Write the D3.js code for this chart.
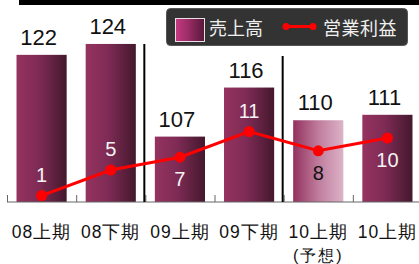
<!DOCTYPE html>
<html>
<head>
<meta charset="utf-8">
<script src="https://cdn.jsdelivr.net/npm/d3@7"></script>
<style>
  body { margin: 0; background: #fff; }
  svg { display: block; }
</style>
</head>
<body>
<div id="chart"></div>
<script>
// data
const categories = ["08上期", "08下期", "09上期", "09下期", "10上期", "10上期"];
const subLabels = ["", "", "", "", "(予想)", ""];
const sales = [122, 124, 107, 116, 110, 111];
const profit = [1, 5, 7, 11, 8, 10];
const forecast = [false, false, false, false, true, false];
const profitLabelSide = ["above", "above", "below", "above", "below", "below"];
const legendLabels = ["売上高", "営業利益"];

const W = 419, H = 264;
const baseY = 202;

const svg = d3.select("#chart").append("svg")
  .attr("width", W).attr("height", H)
  .style("font-family", "'Noto Sans CJK JP', 'Liberation Sans', sans-serif");

const defs = svg.append("defs");
function gradient(id, stops) {
  const g = defs.append("linearGradient").attr("id", id)
    .attr("x1", "0%").attr("x2", "100%").attr("y1", "0%").attr("y2", "0%");
  stops.forEach(s => g.append("stop").attr("offset", s[0]).attr("stop-color", s[1]));
}
gradient("barGrad", [["0%", "#95335f"], ["45%", "#7e2b55"], ["100%", "#44182d"]]);
gradient("foreGrad", [["0%", "#93315e"], ["50%", "#bf7c9c"], ["100%", "#dcb3c8"]]);
gradient("legGrad", [["0%", "#c63a82"], ["45%", "#9a2c66"], ["100%", "#55173a"]]);

// top black strip
svg.append("rect").attr("x", 19).attr("y", 0).attr("width", W - 19).attr("height", 5).attr("fill", "#000");

const x = d3.scaleBand().domain(d3.range(categories.length)).range([7, 422])
  .paddingInner(0.275).paddingOuter(0.1375);
const ySales = d3.scaleLinear().domain([95, 130]).range([baseY, 11.25]);
const yProfit = d3.scaleLinear().domain([0, 30]).range([baseY, 10]);

// bars
svg.append("g").selectAll("rect")
  .data(sales)
  .join("rect")
  .attr("x", (d, i) => x(i))
  .attr("width", x.bandwidth())
  .attr("y", d => ySales(d))
  .attr("height", d => baseY - ySales(d))
  .attr("fill", (d, i) => forecast[i] ? "url(#foreGrad)" : "url(#barGrad)");

// bar value labels
svg.append("g").selectAll("text")
  .data(sales)
  .join("text")
  .attr("x", (d, i) => x(i) + x.bandwidth() / 2 - 3)
  .attr("y", d => ySales(d) - 10)
  .attr("text-anchor", "middle")
  .style("font-family", "'Liberation Sans', Arial, sans-serif")
  .style("font-size", "22px")
  .attr("fill", "#111")
  .text(d => d);

// baseline axis with boundary ticks
const bounds = d3.scaleLinear().domain([0, categories.length]).range([7, 7 + x.step() * categories.length]);
const axisG = svg.append("g").attr("transform", `translate(0,${baseY})`)
  .call(d3.axisBottom(bounds).tickValues(d3.range(categories.length)).tickSize(-7).tickSizeOuter(0).tickFormat(""));
axisG.select(".domain").attr("stroke", "#666").attr("d", `M7,0H${W}`);
axisG.selectAll(".tick line").attr("stroke", "#666");

// period separators
[[2, 44], [4, 56]].forEach(([b, top]) => {
  svg.append("line")
    .attr("x1", bounds(b) - 1).attr("x2", bounds(b) - 1)
    .attr("y1", top).attr("y2", baseY)
    .attr("stroke", "#000").attr("stroke-width", 2);
});

// category labels
const catAxis = svg.append("g").attr("transform", `translate(0,${baseY})`)
  .call(d3.axisBottom(x).tickSize(0).tickFormat(""));
catAxis.select(".domain").remove();
catAxis.selectAll(".tick").each(function(i) {
  const t = d3.select(this).append("text")
    .attr("text-anchor", "middle")
    .attr("fill", "#111")
    .style("font-size", "17.5px")
    .style("letter-spacing", "1px");
  t.append("tspan").attr("x", 0).attr("y", 36).text(categories[i]);
  if (subLabels[i]) t.append("tspan").attr("x", 0).attr("y", 59).style("font-size", "16px").style("letter-spacing", "2px").text(subLabels[i]);
});

// profit line
const line = d3.line().x((d, i) => x(i) + x.bandwidth() / 2).y(d => yProfit(d));
svg.append("path").datum(profit)
  .attr("d", line).attr("fill", "none")
  .attr("stroke", "#ff0000").attr("stroke-width", 3);
svg.append("g").selectAll("circle")
  .data(profit)
  .join("circle")
  .attr("cx", (d, i) => x(i) + x.bandwidth() / 2)
  .attr("cy", d => yProfit(d))
  .attr("r", 5.5)
  .attr("fill", "#ff0000");

svg.append("g").selectAll("text")
  .data(profit)
  .join("text")
  .attr("x", (d, i) => x(i) + x.bandwidth() / 2)
  .attr("y", (d, i) => yProfit(d) + (profitLabelSide[i] === "above" ? -14 : 29))
  .attr("text-anchor", "middle")
  .style("font-family", "'Liberation Sans', Arial, sans-serif")
  .style("font-size", "20px")
  .attr("fill", (d, i) => forecast[i] ? "#111" : "#f4f4f4")
  .text(d => d);

// legend
const leg = svg.append("g");
leg.append("rect").attr("x", 166.5).attr("y", 8.5).attr("width", 241).attr("height", 37).attr("rx", 4)
  .attr("fill", "#333").attr("stroke", "#555");
leg.append("rect").attr("x", 175.5).attr("y", 18.5).attr("width", 29).attr("height", 23)
  .attr("fill", "url(#legGrad)").attr("stroke", "#e8e0e4").attr("stroke-width", 1);
leg.append("text").attr("x", 209).attr("y", 35).attr("fill", "#f0f0f0")
  .style("font-size", "18px").text(legendLabels[0]);
leg.append("line").attr("x1", 286).attr("x2", 313).attr("y1", 26.5).attr("y2", 26.5)
  .attr("stroke", "#ff0000").attr("stroke-width", 3);
leg.selectAll("circle.ld").data([286, 313]).join("circle")
  .attr("cx", d => d).attr("cy", 26.5).attr("r", 3.5).attr("fill", "#ff0000");
leg.append("text").attr("x", 323).attr("y", 35).attr("fill", "#f0f0f0")
  .style("font-size", "18px").style("letter-spacing", "0.5px").text(legendLabels[1]);
</script>
</body>
</html>
